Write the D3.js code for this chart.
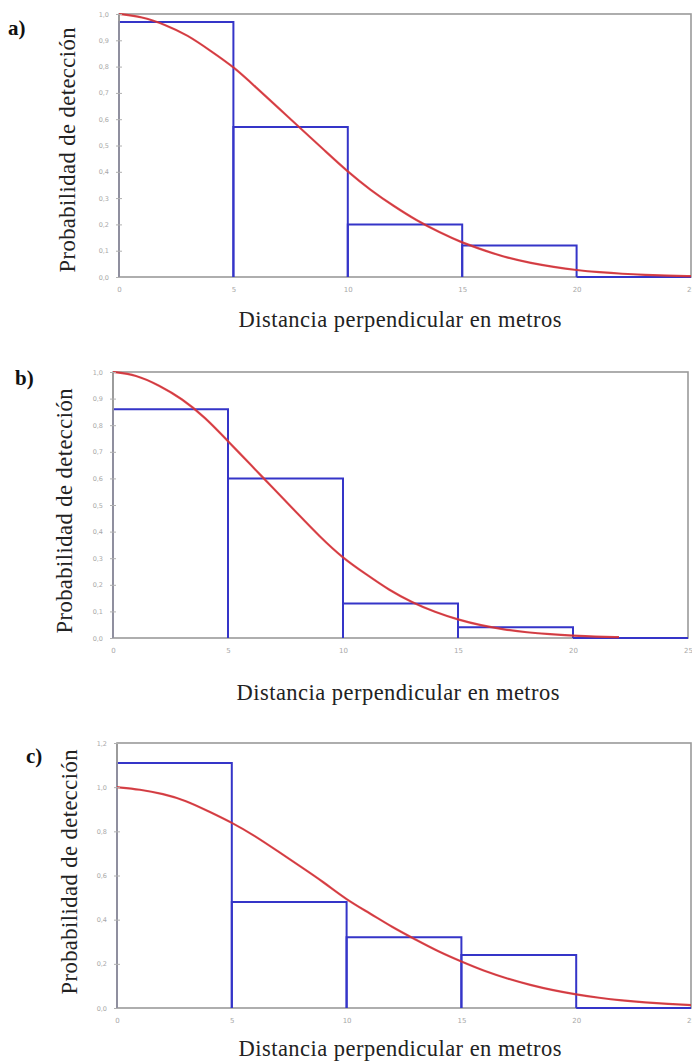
<!DOCTYPE html>
<html>
<head>
<meta charset="utf-8">
<script src="https://cdn.jsdelivr.net/npm/d3@7/dist/d3.min.js"></script>
<style>
  html, body { margin: 0; padding: 0; background: #fff; }
  svg { display: block; }
</style>
</head>
<body>
<svg id="chart" width="692" height="1062"></svg>
<script>
// ---------------- DATA ----------------
const binEdges = [0, 5, 10, 15, 20, 25];
const barsA = [0.97, 0.57, 0.20, 0.12, 0.00];
const barsB = [0.86, 0.60, 0.13, 0.04, 0.00];
const barsC = [1.11, 0.48, 0.32, 0.24, 0.00];

const curveXA = [0,1,2,3,4,5,6,7,8,9,10,11,12,13,14,15,16,17,18,19,20,21,22,23,24,25];
const curveA  = [1.00,0.99,0.96,0.92,0.86,0.80,0.72,0.64,0.56,0.48,0.40,0.33,0.27,0.215,0.17,0.13,0.10,0.072,0.053,0.038,0.026,0.018,0.012,0.008,0.005,0.003];
const curveXB = [0,1,2,3,4,5,6,7,8,9,10,11,12,13,14,15,16,17,18,19,20,21,22];
const curveB  = [1.00,0.99,0.95,0.90,0.83,0.74,0.65,0.56,0.47,0.38,0.30,0.24,0.18,0.134,0.097,0.069,0.047,0.032,0.021,0.014,0.009,0.005,0.003];
const curveXC = [0,1,2,3,4,5,6,7,8,9,10,11,12,13,14,15,16,17,18,19,20,21,22,23,24,25];
const curveC  = [1.00,0.99,0.97,0.94,0.89,0.84,0.78,0.71,0.64,0.57,0.49,0.43,0.365,0.31,0.255,0.21,0.167,0.133,0.104,0.08,0.061,0.046,0.034,0.025,0.018,0.013];

const xTicks = [0, 5, 10, 15, 20, 25];
const yTicksAB = [0, 0.1, 0.2, 0.3, 0.4, 0.5, 0.6, 0.7, 0.8, 0.9, 1.0];
const yTicksC = [0, 0.2, 0.4, 0.6, 0.8, 1.0, 1.2];

const panelLabels = ["a)", "b)", "c)"];
const xTitle = "Distancia perpendicular en metros";
const yTitle = "Probabilidad de detección";

// ---------------- LAYOUT ----------------
const panels = [
  { tag: panelLabels[0], bars: barsA, cx: curveXA, cy: curveA, yMax: 1.0, yTicks: yTicksAB,
    left: 119, right: 691, top: 14, bottom: 277, tagX: 8, tagY: 35,
    yTitleX: 75, yTitleY: 150, xTitleX: 400, xTitleY: 327 },
  { tag: panelLabels[1], bars: barsB, cx: curveXB, cy: curveB, yMax: 1.0, yTicks: yTicksAB,
    left: 113, right: 688, top: 372, bottom: 638, tagX: 15, tagY: 385,
    yTitleX: 72, yTitleY: 511, xTitleX: 398, xTitleY: 700 },
  { tag: panelLabels[2], bars: barsC, cx: curveXC, cy: curveC, yMax: 1.2, yTicks: yTicksC,
    left: 117, right: 691, top: 743, bottom: 1008, tagX: 26, tagY: 763,
    yTitleX: 77, yTitleY: 872, xTitleX: 400, xTitleY: 1056 }
];

const locale = d3.formatLocale({ decimal: ",", thousands: ".", grouping: [3], currency: ["", ""] });
const fmt1 = locale.format(".1f");

const svg = d3.select("#chart");
const serif = "'Liberation Serif', 'DejaVu Serif', serif";
const frameColor = "#9a9a9a";
const barColor = "#3535c8";
const curveColor = "#e0383c";

panels.forEach(p => {
  const g = svg.append("g");
  const x = d3.scaleLinear().domain([0, 25]).range([p.left, p.right]);
  const y = d3.scaleLinear().domain([0, p.yMax]).range([p.bottom, p.top]);

  // frame
  g.append("rect")
    .attr("x", p.left).attr("y", p.top)
    .attr("width", p.right - p.left).attr("height", p.bottom - p.top)
    .attr("fill", "none").attr("stroke", frameColor).attr("stroke-width", 1.6);

  // histogram bars (outline without bottom edge)
  g.selectAll("path.bar").data(p.bars).join("path")
    .attr("class", "bar")
    .attr("d", (h, i) => {
      const x0 = x(binEdges[i]), x1 = x(binEdges[i + 1]);
      return `M${x0},${y(0)}V${y(h)}H${x1}V${y(0)}`;
    })
    .attr("fill", "none").attr("stroke", barColor).attr("stroke-width", 2);

  // left axis line on top
  g.append("line")
    .attr("x1", p.left).attr("x2", p.left).attr("y1", p.top).attr("y2", p.bottom)
    .attr("stroke", frameColor).attr("stroke-width", 1.8);

  // fitted curve
  const line = d3.line().curve(d3.curveBasis).x((d, i) => x(p.cx[i])).y(d => y(d));
  g.append("path").datum(p.cy)
    .attr("d", line)
    .attr("fill", "none").attr("stroke", curveColor).attr("stroke-width", 2.2).attr("opacity", 0.9);
  g.append("path").datum(p.cy)
    .attr("d", line)
    .attr("fill", "none").attr("stroke", "#a02030").attr("stroke-width", 0.7).attr("opacity", 0.6);

  // y ticks
  const yAxis = d3.axisLeft(y).tickValues(p.yTicks).tickFormat(fmt1).tickSize(3).tickPadding(7);
  const ya = g.append("g").attr("transform", `translate(${p.left},0)`).call(yAxis);
  ya.select(".domain").remove();
  ya.selectAll(".tick line").attr("x2", 3).attr("x1", -3).attr("stroke", "#b0b0b0");
  ya.selectAll(".tick text").attr("fill", "#a8a8a8").attr("font-size", 6.5)
    .attr("font-family", "'DejaVu Sans', sans-serif");

  // x ticks
  const xAxis = d3.axisBottom(x).tickValues(xTicks).tickFormat(d3.format("d")).tickSize(0).tickPadding(10);
  const xa = g.append("g").attr("transform", `translate(0,${p.bottom})`).call(xAxis);
  xa.select(".domain").remove();
  xa.selectAll(".tick text").attr("fill", "#a8a8a8").attr("font-size", 7)
    .attr("font-family", "'DejaVu Sans', sans-serif");

  // titles
  g.append("text").text(p.tag)
    .attr("x", p.tagX).attr("y", p.tagY)
    .attr("font-family", serif).attr("font-weight", "bold").attr("font-size", 21).attr("fill", "#111");
  g.append("text").text(xTitle)
    .attr("x", p.xTitleX).attr("y", p.xTitleY).attr("text-anchor", "middle")
    .attr("font-family", serif).attr("font-size", 22.5).attr("fill", "#222")
    .attr("textLength", 323).attr("lengthAdjust", "spacing");
  g.append("text").text(yTitle)
    .attr("transform", `translate(${p.yTitleX},${p.yTitleY}) rotate(-90)`)
    .attr("text-anchor", "middle")
    .attr("font-family", serif).attr("font-size", 22.5).attr("fill", "#222")
    .attr("textLength", 245).attr("lengthAdjust", "spacing");
});
</script>
</body>
</html>
